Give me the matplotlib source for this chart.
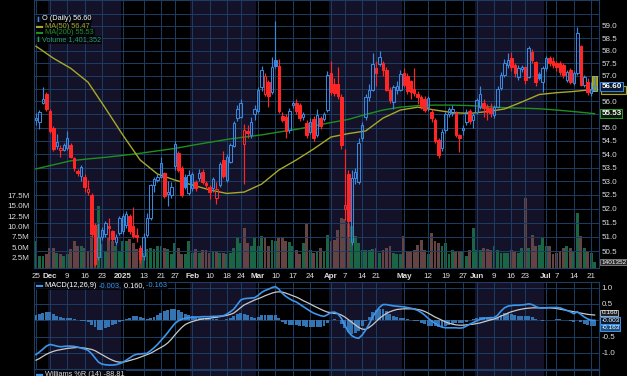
import matplotlib

matplotlib.use("Agg")

import matplotlib.pyplot as plt
import matplotlib.transforms as mtransforms
import numpy as np
import pandas as pd
from matplotlib.patches import Rectangle
from matplotlib.ticker import FixedLocator, FuncFormatter, NullLocator

plt.rcParams["font.family"] = ["Liberation Sans", "DejaVu Sans"]

W, H = 627, 376

# ------------------------------------------------------------------ data

# NYSE sessions from 25 Nov 2024 to 22 Jul 2025
HOLIDAYS = ["2024-11-28", "2024-12-25", "2025-01-01", "2025-01-09", "2025-01-20",
            "2025-02-17", "2025-04-18", "2025-05-26", "2025-06-19", "2025-07-04"]
dates = pd.bdate_range("2024-11-25", "2025-07-22", freq="C", holidays=HOLIDAYS)

OPEN = [
    55.30, 55.22, 55.95, 56.28, 55.65, 55.00, 54.30, 54.15, 54.15, 54.22,
    54.35, 53.85, 53.38, 53.18, 53.15, 52.60, 52.50, 51.40, 50.28, 50.98,
    51.10, 51.38, 51.20, 50.82, 51.13, 51.20, 51.40, 51.72, 51.37, 51.05,
    50.60, 50.32, 51.07, 51.66, 52.85, 53.05, 53.16, 53.30, 52.54, 52.50,
    53.55, 54.05, 53.48, 53.15, 52.58, 52.75, 52.98, 53.10, 53.35, 52.92,
    52.80, 52.74, 52.38, 52.86, 53.78, 53.05, 53.72, 54.32, 55.35, 55.42,
    54.38, 54.85, 54.72, 55.50, 55.62, 56.57, 56.28, 56.77, 56.36, 57.62,
    57.38, 55.45, 55.40, 54.90, 55.85, 55.93, 55.85, 55.40, 55.18, 54.83,
    55.32, 54.72, 55.38, 55.32, 55.67, 57.10, 56.70, 56.68, 56.19, 52.00,
    53.27, 50.80, 53.10, 52.95, 54.60, 55.40, 56.16, 56.44, 57.30, 57.48,
    57.50, 57.25, 56.44, 55.98, 56.45, 56.45, 57.12, 57.00, 56.78, 56.50,
    56.28, 56.18, 56.10, 55.77, 55.60, 55.28, 54.52, 54.22, 54.90, 55.50,
    55.55, 55.57, 54.70, 54.90, 55.22, 55.64, 55.28, 55.60, 55.78, 55.95,
    55.78, 55.75, 55.48, 55.80, 56.52, 57.05, 57.45, 57.70, 57.42, 56.95,
    57.26, 57.34, 56.96, 57.96, 57.54, 57.07, 56.76, 57.30, 57.70, 57.60,
    57.50, 57.52, 57.43, 56.83, 57.22, 56.72, 57.10, 58.17, 56.64, 56.76,
    56.33, 56.45,
]
HIGH = [
    55.55, 55.68, 56.55, 56.35, 55.70, 55.05, 54.75, 54.35, 54.40, 54.85,
    54.40, 53.90, 53.45, 53.60, 53.25, 53.05, 52.55, 51.50, 51.50, 51.35,
    51.55, 51.65, 51.25, 51.10, 51.75, 51.85, 51.90, 51.80, 52.05, 51.30,
    50.70, 51.15, 51.85, 52.90, 53.15, 53.25, 53.90, 53.35, 53.00, 52.95,
    54.50, 54.10, 53.55, 53.25, 53.40, 53.35, 53.05, 53.45, 53.45, 53.00,
    52.85, 53.15, 52.95, 53.70, 54.10, 54.00, 54.40, 55.25, 55.85, 56.10,
    55.15, 55.10, 55.40, 55.85, 56.55, 57.40, 57.10, 56.85, 57.75, 59.20,
    57.65, 55.60, 55.50, 55.75, 56.00, 56.10, 55.95, 55.60, 55.30, 55.35,
    55.45, 55.70, 55.45, 55.60, 57.20, 57.60, 56.90, 57.35, 56.30, 54.20,
    53.40, 53.40, 53.50, 54.60, 55.20, 56.30, 56.70, 57.90, 57.60, 58.00,
    57.60, 57.35, 56.55, 56.65, 56.80, 57.25, 57.30, 57.10, 56.85, 57.30,
    56.40, 56.25, 56.20, 56.20, 55.70, 55.35, 54.60, 54.95, 55.60, 55.80,
    55.85, 55.65, 54.75, 55.10, 55.70, 55.70, 55.55, 56.15, 56.60, 56.10,
    55.90, 55.95, 55.85, 56.60, 57.15, 57.65, 57.90, 57.95, 57.50, 57.45,
    57.45, 57.40, 58.20, 58.05, 57.60, 57.15, 57.40, 57.80, 57.80, 57.75,
    57.60, 57.60, 57.50, 57.25, 57.30, 57.20, 58.95, 58.25, 57.05, 56.90,
    56.75, 57.00,
]
LOW = [
    55.10, 54.95, 55.90, 55.62, 54.80, 54.10, 54.20, 53.88, 54.10, 54.15,
    53.85, 53.38, 53.20, 53.00, 52.62, 52.50, 51.00, 49.98, 50.20, 50.90,
    51.00, 50.90, 50.85, 50.72, 51.05, 51.10, 51.30, 51.10, 50.95, 50.80,
    50.10, 50.20, 51.00, 51.60, 52.60, 52.95, 53.10, 52.40, 52.10, 52.40,
    53.40, 53.35, 52.42, 52.70, 52.50, 52.65, 52.65, 53.00, 52.90, 52.70,
    52.35, 52.60, 52.15, 52.80, 53.10, 52.95, 53.65, 54.25, 55.25, 55.35,
    52.90, 54.60, 54.60, 55.30, 55.55, 56.40, 56.20, 55.80, 56.30, 57.30,
    55.55, 55.20, 54.60, 54.80, 55.75, 55.50, 55.25, 55.30, 54.60, 54.75,
    54.50, 54.65, 54.95, 55.25, 55.60, 56.25, 56.20, 56.10, 54.20, 51.60,
    51.00, 50.70, 52.90, 52.90, 54.50, 55.30, 56.00, 56.40, 56.60, 57.40,
    57.00, 56.40, 55.95, 55.70, 56.30, 56.40, 56.55, 56.30, 56.10, 56.20,
    55.90, 55.70, 55.60, 55.65, 55.20, 54.40, 53.85, 54.10, 54.80, 55.40,
    55.45, 54.65, 54.08, 54.70, 55.10, 55.15, 55.00, 55.50, 55.70, 55.40,
    55.30, 55.40, 55.35, 55.75, 56.45, 56.95, 57.30, 57.20, 56.95, 56.85,
    57.15, 56.70, 56.90, 57.50, 56.60, 56.85, 56.35, 57.20, 57.40, 57.30,
    57.20, 57.05, 56.90, 56.75, 56.70, 56.65, 57.05, 56.60, 56.55, 56.25,
    56.20, 56.40,
]
CLOSE = [
    55.38, 55.60, 56.10, 55.70, 54.85, 54.18, 54.45, 54.22, 54.34, 54.60,
    53.90, 53.48, 53.30, 53.52, 52.78, 52.72, 51.10, 50.05, 51.00, 51.25,
    51.48, 51.30, 50.92, 50.98, 51.65, 51.75, 51.82, 51.20, 51.02, 50.98,
    50.22, 51.00, 51.65, 52.86, 53.08, 53.15, 53.68, 52.45, 52.62, 52.80,
    54.38, 53.42, 52.50, 52.80, 53.22, 53.25, 52.75, 53.30, 52.98, 52.85,
    52.62, 53.06, 52.73, 53.63, 53.20, 53.90, 54.34, 55.18, 55.72, 55.95,
    54.90, 54.78, 55.22, 55.70, 56.44, 57.22, 57.00, 56.22, 57.35, 57.40,
    55.65, 55.30, 54.85, 55.65, 55.93, 55.62, 55.35, 55.52, 54.72, 55.22,
    54.60, 55.48, 55.06, 55.52, 57.02, 56.35, 56.32, 56.22, 54.35, 52.12,
    51.55, 53.10, 53.35, 54.40, 55.10, 56.19, 56.44, 57.48, 57.12, 57.75,
    57.22, 56.45, 56.05, 56.57, 56.60, 57.08, 56.65, 56.42, 56.38, 56.32,
    56.16, 55.82, 55.68, 56.15, 55.35, 54.48, 53.98, 54.82, 55.52, 55.70,
    55.72, 54.72, 54.60, 55.00, 55.60, 55.26, 55.48, 56.05, 56.28, 55.75,
    55.60, 55.55, 55.77, 56.50, 57.05, 57.50, 57.62, 57.35, 57.10, 57.30,
    57.34, 56.83, 58.10, 57.62, 56.76, 56.92, 57.30, 57.70, 57.50, 57.45,
    57.35, 57.14, 57.03, 57.15, 56.76, 57.12, 58.70, 56.64, 56.95, 56.37,
    56.50, 56.60,
]
VOLUME_M = [
    6.4, 2.9, 2.9, 3.3, 4.9, 4.7, 3.7, 3.3, 2.9, 3.3,
    4.5, 6.4, 5.2, 5.3, 4.9, 4.1, 7.6, 6.9, 14.9, 5.7,
    4.1, 7.1, 6.4, 5.3, 4.1, 6.4, 6.4, 6.9, 6.0, 4.5,
    4.7, 3.7, 4.5, 4.9, 4.5, 5.3, 5.2, 4.9, 4.5, 3.3,
    6.0, 4.9, 3.3, 3.3, 6.4, 3.7, 4.5, 3.7, 4.45, 4.45,
    3.65, 4.05, 4.0, 3.65, 3.65, 3.25, 3.65, 4.85, 7.25, 6.05,
    9.65, 6.05, 5.25, 7.25, 5.25, 7.8, 7.25, 5.25, 6.85, 6.45,
    7.25, 7.25, 6.45, 6.25, 5.25, 4.45, 3.25, 6.05, 10.7, 4.45,
    3.65, 4.05, 4.85, 4.05, 8.05, 6.45, 6.85, 9.25, 12.1, 11.7,
    10.5, 10.0, 7.65, 6.05, 4.45, 4.45, 4.45, 4.65, 4.85, 3.65,
    4.45, 4.85, 5.25, 3.65, 3.25, 3.25, 7.8, 4.05, 4.05, 4.45,
    5.5, 6.85, 4.45, 3.25, 8.45, 6.45, 6.05, 5.25, 6.05, 3.25,
    4.45, 4.05, 3.85, 4.05, 3.0, 4.45, 9.65, 4.45, 4.45, 4.85,
    4.65, 4.45, 5.25, 4.45, 3.7, 3.6, 3.7, 4.3, 4.05, 3.65,
    4.85, 16.9, 4.85, 8.05, 5.25, 5.65, 7.25, 5.25, 5.25, 3.25,
    3.65, 4.05, 4.85, 5.25, 4.85, 4.05, 13.3, 7.65, 4.85, 4.05,
    3.65, 1.401352,
]

# moving averages read every fifth session (plus the last one)
MA_IDX = list(range(0, 160, 5)) + [161]
MA50 = [58.18, 57.70, 57.30, 56.75, 55.74, 54.72, 53.78, 53.26, 53.04, 52.86,
        52.68, 52.55, 52.60, 52.89, 53.41, 53.78, 54.19, 54.64, 54.77, 54.87,
        55.36, 55.67, 55.78, 55.67, 55.57, 55.54, 55.61, 55.71, 55.98, 56.27,
        56.34, 56.39, 56.47]
MA200 = [53.45, 53.60, 53.75, 53.82, 53.88, 53.95, 54.03, 54.12, 54.21, 54.33,
         54.44, 54.55, 54.64, 54.72, 54.83, 54.93, 55.06, 55.19, 55.31, 55.50,
         55.67, 55.78, 55.84, 55.86, 55.86, 55.84, 55.80, 55.76, 55.74, 55.72,
         55.67, 55.61, 55.53]

MACD = [
    -1.05, -0.97, -0.88, -0.79, -0.74, -0.76, -0.79, -0.81, -0.80, -0.79,
    -0.79, -0.80, -0.82, -0.85, -0.88, -0.92, -1.02, -1.15, -1.28, -1.34,
    -1.36, -1.37, -1.37, -1.36, -1.33, -1.29, -1.22, -1.15, -1.08, -1.04,
    -1.03, -1.02, -1.01, -0.93, -0.84, -0.74, -0.62, -0.50, -0.37, -0.23,
    -0.10, -0.02, 0.03, 0.06, 0.08, 0.09, 0.10, 0.10, 0.11, 0.11,
    0.11, 0.12, 0.12, 0.13, 0.14, 0.19, 0.26, 0.34, 0.48, 0.62,
    0.66, 0.67, 0.68, 0.69, 0.76, 0.85, 0.91, 0.95, 1.00, 1.03,
    0.95, 0.82, 0.73, 0.66, 0.60, 0.56, 0.49, 0.42, 0.35, 0.28,
    0.22, 0.18, 0.14, 0.12, 0.17, 0.24, 0.25, 0.20, 0.06, -0.15,
    -0.35, -0.47, -0.53, -0.55, -0.45, -0.30, -0.12, 0.10, 0.26, 0.40,
    0.48, 0.48, 0.46, 0.44, 0.43, 0.42, 0.41, 0.39, 0.37, 0.34,
    0.30, 0.24, 0.16, 0.06, -0.02, -0.09, -0.16, -0.21, -0.23, -0.23,
    -0.23, -0.23, -0.24, -0.23, -0.18, -0.12, -0.07, -0.02, 0.03, 0.06,
    0.07, 0.08, 0.08, 0.15, 0.28, 0.38, 0.43, 0.45, 0.46, 0.46,
    0.47, 0.48, 0.50, 0.48, 0.42, 0.38, 0.37, 0.38, 0.39, 0.39,
    0.39, 0.38, 0.34, 0.30, 0.26, 0.20, 0.26, 0.18, 0.10, 0.04,
    0.00, -0.003,
]
SIGNAL = [
    -1.22, -1.17, -1.10, -1.04, -0.99, -0.95, -0.92, -0.90, -0.88, -0.86,
    -0.85, -0.84, -0.83, -0.84, -0.85, -0.87, -0.89, -0.93, -0.99, -1.05,
    -1.11, -1.17, -1.22, -1.26, -1.28, -1.28, -1.26, -1.23, -1.20, -1.17,
    -1.13, -1.09, -1.05, -1.01, -0.95, -0.89, -0.83, -0.77, -0.69, -0.58,
    -0.45, -0.33, -0.22, -0.13, -0.08, -0.04, -0.01, 0.02, 0.04, 0.05,
    0.06, 0.08, 0.09, 0.11, 0.13, 0.15, 0.18, 0.22, 0.30, 0.39,
    0.47, 0.52, 0.57, 0.62, 0.66, 0.70, 0.75, 0.79, 0.83, 0.86,
    0.87, 0.86, 0.83, 0.79, 0.75, 0.71, 0.66, 0.60, 0.55, 0.50,
    0.44, 0.39, 0.34, 0.29, 0.25, 0.23, 0.21, 0.20, 0.16, 0.10,
    0.02, -0.06, -0.14, -0.22, -0.27, -0.28, -0.22, -0.14, -0.04, 0.06,
    0.14, 0.21, 0.26, 0.30, 0.33, 0.34, 0.35, 0.35, 0.35, 0.35,
    0.33, 0.31, 0.27, 0.22, 0.16, 0.10, 0.05, 0.00, -0.05, -0.09,
    -0.12, -0.14, -0.15, -0.15, -0.14, -0.13, -0.12, -0.10, -0.08, -0.05,
    -0.02, 0.01, 0.04, 0.08, 0.13, 0.17, 0.22, 0.26, 0.29, 0.32,
    0.34, 0.36, 0.37, 0.38, 0.38, 0.38, 0.38, 0.38, 0.38, 0.37,
    0.36, 0.34, 0.32, 0.30, 0.28, 0.26, 0.24, 0.22, 0.20, 0.18,
    0.17, 0.16,
]

TICK_DATES = ["2024-11-25", "2024-12-02", "2024-12-09", "2024-12-16", "2024-12-23",
              "2025-01-02", "2025-01-13", "2025-01-21", "2025-01-27", "2025-02-03",
              "2025-02-10", "2025-02-18", "2025-02-24", "2025-03-03", "2025-03-10",
              "2025-03-17", "2025-03-24", "2025-04-01", "2025-04-07", "2025-04-14",
              "2025-04-21", "2025-05-01", "2025-05-12", "2025-05-19", "2025-05-27",
              "2025-06-02", "2025-06-09", "2025-06-16", "2025-06-23", "2025-07-01",
              "2025-07-07", "2025-07-14", "2025-07-21"]
TICK_LABELS = ["25", "Dec", "9", "16", "23", "2025", "13", "21", "27", "Feb",
               "10", "18", "24", "Mar", "10", "17", "24", "Apr", "7", "14",
               "21", "May", "12", "19", "27", "Jun", "9", "16", "23", "Jul",
               "7", "14", "21"]
BOLD_LABELS = {"Dec", "2025", "Feb", "Mar", "Apr", "May", "Jun", "Jul"}
SHADED_MONTHS = [12, 2, 4, 6]

PRICE_TICKS = [50.5, 51.0, 51.5, 52.0, 52.5, 53.0, 53.5, 54.0, 54.5, 55.0,
               55.5, 56.0, 56.5, 57.0, 57.5, 58.0, 58.5, 59.0, 59.5]
PRICE_UNLABELLED = [55.5, 56.5, 59.5]   # hidden behind the value boxes / top edge
VOLUME_TICKS_M = [2.5, 5.0, 7.5, 10.0, 12.5, 15.0, 17.5]
MACD_TICKS = [-1.0, -0.5, 0.0, 0.5, 1.0]

assert len(dates) == len(OPEN) == len(HIGH) == len(LOW) == len(CLOSE) == len(VOLUME_M)
assert len(MACD) == len(SIGNAL) == len(dates)

# ---------------------------------------------------------------- styling

BG = "#000000"
SHADE = "#141229"
GRID = "#1d3d64"
TXT = "#dcdcdc"
BLUE = "#3b87dd"
RED = "#ff2626"
VOL_UP = "#1a6644"
VOL_DN = "#634343"
MA50_C = "#a9a828"
MA200_C = "#1f8f1f"
MACD_C = "#3c96ec"
SIG_C = "#c9c9c9"
HIST_C = "#3574b2"
LBOX = dict(boxstyle="square,pad=0.1", fc="black", ec="none", alpha=0.7)


def frac(x0, y0, x1, y1):
    """Pixel box (top-left origin) -> figure fraction rect."""
    return [x0 / W, 1 - y1 / H, (x1 - x0) / W, (y1 - y0) / H]


def shade_months(axis, month):
    for m in SHADED_MONTHS:
        sel = np.flatnonzero(month == m)
        if len(sel):
            axis.axvspan(sel[0] - 0.5, sel[-1] + 0.5, color=SHADE, lw=0, zorder=0)


def style_frame(axis):
    axis.set_facecolor(BG)
    for s in axis.spines.values():
        s.set_color(GRID)
        s.set_linewidth(0.8)


def legend_line(axis, x, y, parts, size=5.3):
    t = axis.annotate(parts[0][0], xy=(x / W, 1 - y / H), xycoords="figure fraction",
                      color=parts[0][1], fontsize=size, va="center", ha="left",
                      bbox=LBOX, annotation_clip=False, zorder=20)
    for s, cl in parts[1:]:
        t = axis.annotate(s, xy=(1, 0.5), xycoords=t, color=cl, fontsize=size,
                          va="center", ha="left", bbox=LBOX,
                          annotation_clip=False, zorder=20)


def value_box(axis, y, text, ec, fc, size, dy=0.0, z=10, bold=False):
    tr = mtransforms.offset_copy(axis.get_yaxis_transform(), fig=fig, y=dy, units="dots")
    axis.text(1.004, y, text, transform=tr, ha="left", va="center", fontsize=size,
              fontweight="bold" if bold else "normal", color="white", clip_on=False,
              zorder=z, bbox=dict(boxstyle="square,pad=0.12", fc=fc, ec=ec, lw=0.7))


idx = np.arange(len(dates))
month = dates.month.values
tick_idx = dates.get_indexer(pd.to_datetime(TICK_DATES))
xlim = (-0.58, 162.25)

o, h, l, c = (np.array(a) for a in (OPEN, HIGH, LOW, CLOSE))
prev = np.r_[o[0], c[:-1]]
up = c >= prev
col = np.where(up, BLUE, RED)
top, bot = np.maximum(o, c), np.minimum(o, c)
face = [cc if f else "none" for cc, f in zip(col, c < o)]

fig = plt.figure(figsize=(W / 100, H / 100), dpi=100, facecolor=BG)

# ------------------------------------------------------- price + volume
vax = fig.add_axes(frac(34, 0, 599, 268))
style_frame(vax)
ax = vax.twinx()
ax.set_zorder(vax.get_zorder() + 1)
ax.patch.set_visible(False)
for s in ax.spines.values():
    s.set_visible(False)

shade_months(vax, month)
vax.bar(idx, np.array(VOLUME_M) * 1e6, width=0.82,
        color=np.where(up, VOL_UP, VOL_DN), zorder=1)
vax.set_ylim(0, 64.5e6)
vax.set_xlim(*xlim)
vax.yaxis.set_major_locator(FixedLocator([v * 1e6 for v in VOLUME_TICKS_M]))
vax.yaxis.set_major_formatter(FuncFormatter(lambda v, p: f"{v / 1e6:.1f}M"))
vax.tick_params(axis="y", length=0, pad=3, labelsize=5.8, labelcolor=TXT)
vax.set_xticks(tick_idx)
vax.set_xticklabels(TICK_LABELS)
vax.tick_params(axis="x", length=0, pad=3.5, labelsize=5.8, labelcolor=TXT)
for lab in vax.get_xticklabels():
    if lab.get_text() in BOLD_LABELS:
        lab.set_fontweight("bold")
vax.grid(axis="x", color=GRID, lw=0.7)

ax.set_yscale("log")
ax.set_ylim(49.91, 60.07)
ax.set_xlim(*xlim)
ax.yaxis.set_major_locator(FixedLocator(PRICE_TICKS))
ax.yaxis.set_minor_locator(NullLocator())
ax.yaxis.set_minor_formatter(FuncFormatter(lambda v, p: ""))
ax.yaxis.set_major_formatter(FuncFormatter(
    lambda v, p: "" if any(abs(v - u) < 1e-6 for u in PRICE_UNLABELLED) else f"{v:.1f}"))
ax.tick_params(axis="y", which="both", length=0, pad=2, labelsize=5.8, labelcolor=TXT)
ax.set_axisbelow(True)
ax.grid(axis="y", color=GRID, lw=0.7)

ax.plot(MA_IDX, MA200, color=MA200_C, lw=1.0, zorder=2)
ax.plot(MA_IDX, MA50, color=MA50_C, lw=1.0, zorder=2)

# highlight behind the latest session
ax.add_patch(Rectangle((idx[-1] - 0.65, l[-1]), 1.3, h[-1] - l[-1],
                       fc="#9c9a1c", ec="#c8c630", lw=0.6, zorder=2.5))
ax.vlines(idx, top, h, colors=col, lw=0.85, zorder=3)
ax.vlines(idx, l, bot, colors=col, lw=0.85, zorder=3)
ax.bar(idx, np.maximum(top - bot, 0.02), bottom=bot, width=0.72, color=face,
       edgecolor=col, linewidth=0.75, zorder=4)

# MA(50) label sits behind the close label: only its yellow edge shows
ax.add_patch(Rectangle((1.003, MA50[-1] - 0.17), 0.044, 0.30,
                       transform=ax.get_yaxis_transform(), fc="#1a1a08",
                       ec=MA50_C, lw=0.8, clip_on=False, zorder=9))
value_box(ax, c[-1], f"{c[-1]:.2f}", BLUE, "#0b1a30", 5.8, z=11, bold=True)
value_box(ax, MA200[-1], f"{MA200[-1]:.2f}", "#2aa02a", "#0a1a0a", 5.8, bold=True)
value_box(vax, VOLUME_M[-1] * 1e6, f"{round(VOLUME_M[-1] * 1e6)}", "#7a7a7a",
          "#2a2a2a", 4.6)

legend_line(ax, 36, 19, [("▮", BLUE), (" O (Daily) 56.60", "white")])
legend_line(ax, 36, 26, [("▬", MA50_C), (" MA(50) 56.47", MA50_C)])
legend_line(ax, 36, 33, [("▬", MA200_C), (" MA(200) 55.53", MA200_C)])
legend_line(ax, 36, 40, [("▮", "#2a9a6a"), (" Volume 1,401,352", "#2a9a6a")])

# ------------------------------------------------------------------ MACD
mx = fig.add_axes(frac(34, 282, 599, 369))
style_frame(mx)
shade_months(mx, month)
hist = np.array(MACD) - np.array(SIGNAL)
mx.bar(idx, hist, width=0.85, color=HIST_C, zorder=2)
mx.plot(idx, SIGNAL, color=SIG_C, lw=0.9, zorder=3)
mx.plot(idx, MACD, color=MACD_C, lw=1.2, zorder=4)
mx.set_xlim(*xlim)
mx.set_ylim(-1.49, 1.17)
mx.set_xticks(tick_idx)
mx.set_xticklabels([])
mx.tick_params(axis="x", length=0)
mx.yaxis.tick_right()
mx.yaxis.set_major_locator(FixedLocator(MACD_TICKS))
mx.yaxis.set_major_formatter(FuncFormatter(lambda v, p: "" if abs(v) < 1e-9 else f"{v:.1f}"))
mx.tick_params(axis="y", length=0, pad=2, labelsize=5.8, labelcolor=TXT)
mx.set_axisbelow(True)
mx.grid(True, color=GRID, lw=0.7)

value_box(mx, SIGNAL[-1], f"{SIGNAL[-1]:.3f}", "#aaaaaa", "#222222", 4.6, dy=2.2)
value_box(mx, hist[-1], f"{hist[-1]:.3f}", MACD_C, "#1f4f7f", 4.6, dy=-2.2)
value_box(mx, MACD[-1], f"{MACD[-1]:.3f}", MACD_C, "#0b1a30", 4.6, z=11)

legend_line(mx, 36, 285.5, [("▬", MACD_C), (" MACD(12,26,9) ", "white"),
                            (f"{MACD[-1]:.3f},", MACD_C), (f" {SIGNAL[-1]:.3f},", "white"),
                            (f" {hist[-1]:.3f}", MACD_C)])

# ------------------------------------------------- Williams %R (cut off)
wx = fig.add_axes(frac(34, 370, 599, 400))
style_frame(wx)
shade_months(wx, month)
wx.set_xlim(*xlim)
wx.set_xticks(tick_idx)
wx.set_xticklabels([])
wx.set_yticks([])
wx.tick_params(length=0)
wx.grid(axis="x", color=GRID, lw=0.7)
legend_line(wx, 36, 374, [("▬", MACD_C), (" Williams %R (14) -88.81", TXT)])

fig.savefig("out.png", dpi=100, facecolor=BG)
